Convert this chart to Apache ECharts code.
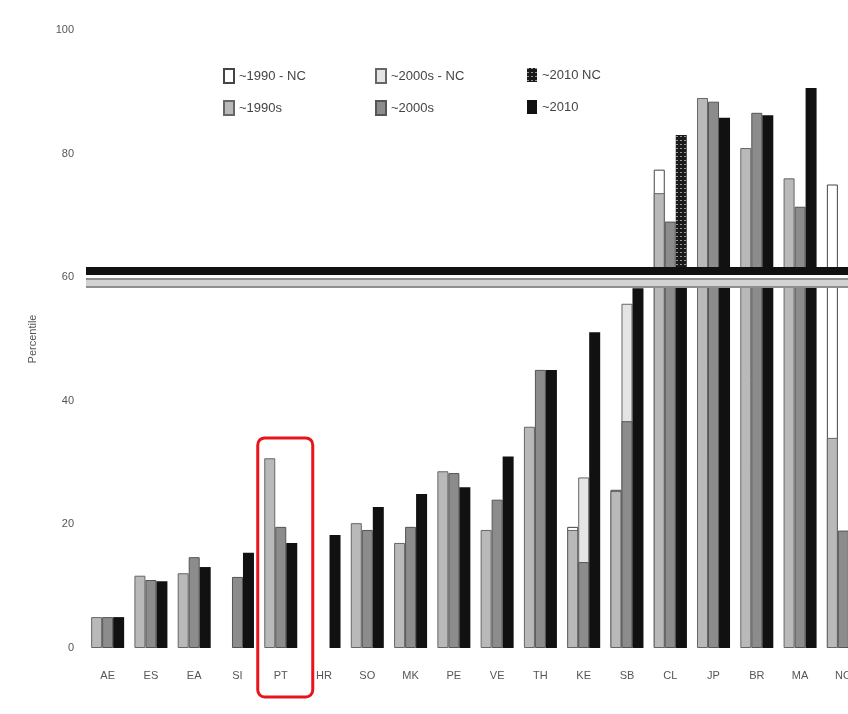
<!DOCTYPE html>
<html>
<head>
<meta charset="utf-8">
<script src="https://cdn.jsdelivr.net/npm/echarts@6/dist/echarts.min.js"></script>
<style>
  html, body { margin: 0; padding: 0; background: #fff; }
  #chart { width: 848px; height: 714px; }
</style>
</head>
<body>
<div id="chart"></div>
<script>
// categories (x axis)
var categories = ['AE', 'ES', 'EA', 'SI', 'PT', 'HR', 'SO', 'MK', 'PE', 'VE', 'TH', 'KE', 'SB', 'CL', 'JP', 'BR', 'MA', 'NO'];
// values
var v1990 = [5, 11.7, 12.1, null, 30.7, null, 20.2, 17, 28.6, 19.1, 35.8, 19.1, 25.4, 73.6, 89, 80.9, 76, 34];
var v2000 = [5, 11, 14.7, 11.5, 19.6, null, 19.1, 19.6, 28.3, 24, 45, 13.9, 36.7, 69, 88.4, 86.6, 71.4, 19];
var v2010 = [5, 10.8, 13.1, 15.4, 17, 18.3, 22.8, 24.9, 26, 31, 45, 51.1, 58.2, 60, 85.8, 86.2, 90.6, 91];
var nc1990 = [null, null, null, null, null, null, null, null, null, null, null, 19.6, 25.6, 77.4, null, null, null, 75];
var nc2000 = [null, null, null, null, null, null, null, null, null, null, null, 27.6, 55.7, null, null, null, null, null];
var nc2010 = [null, null, null, null, null, null, null, null, null, null, null, null, null, 83, null, null, null, null];
var yTicks = [0, 20, 40, 60, 80, 100];
// threshold bands
var lineTop = 61;
var lineBottom = 59.15;

var names = ['~1990 - NC', '~2000s - NC', '~2010 NC', '~1990s', '~2000s', '~2010'];

function bar(name, data, axis, style) {
    return {
        name: name,
        type: 'bar',
        xAxisIndex: axis,
        barWidth: 11,
        barGap: '0%',
        data: data,
        itemStyle: style
    };
}

var series = [
    bar(names[0], nc1990, 1, {color: '#ffffff', borderColor: '#444', borderWidth: 1}),
    bar(names[1], nc2000, 1, {color: '#e4e4e4', borderColor: '#666', borderWidth: 1}),
    bar(names[2], nc2010, 1, {
        color: '#1a1a1a',
        decal: {symbol: 'rect', symbolSize: 1, dashArrayX: [[2, 2]], dashArrayY: [1, 3], color: 'rgba(255,255,255,0.55)', rotation: 0}
    }),
    bar(names[3], v1990, 0, {color: '#b9b9b9', borderColor: '#666', borderWidth: 1}),
    bar(names[4], v2000, 0, {color: '#8c8c8c', borderColor: '#555', borderWidth: 1}),
    bar(names[5], v2010, 0, {color: '#111111'})
];
series[5].markLine = {
    silent: true,
    symbol: 'none',
    label: {show: false},
    animation: false,
    data: [
        {yAxis: (lineTop + lineBottom) / 2, lineStyle: {color: '#ffffff', width: 5, type: 'solid'}},
        {yAxis: lineTop, lineStyle: {color: '#111111', width: 8, type: 'solid'}},
        {yAxis: lineBottom, lineStyle: {color: '#8f8f8f', width: 10, type: 'solid'}},
        {yAxis: lineBottom, lineStyle: {color: '#d2d2d2', width: 6, type: 'solid'}}
    ]
};

// one legend box per item, laid out in two rows of three
var legendPos = [[218, 63], [370, 63], [522, 63], [218, 95], [370, 95], [522, 95]];
var legends = names.map(function (n, i) {
    return {
        data: [{name: n, icon: 'rect'}],
        left: legendPos[i][0],
        top: legendPos[i][1],
        itemWidth: 10,
        itemHeight: 14,
        itemGap: 4,
        selectedMode: false,
        textStyle: {color: '#444', fontSize: 13, fontFamily: 'Liberation Sans'}
    };
});

var option = {
    animation: false,
    backgroundColor: '#ffffff',
    // the plot runs past the right edge of the picture
    grid: {left: 86, right: -17, top: 30, bottom: 66, outerBoundsMode: 'none', containLabel: false},
    legend: legends,
    xAxis: [{
        type: 'category',
        data: categories,
        axisLine: {show: false},
        axisTick: {show: false},
        axisLabel: {color: '#555', fontSize: 11, margin: 22, fontFamily: 'Liberation Sans'}
    }, {
        type: 'category',
        data: categories,
        show: false
    }],
    yAxis: {
        type: 'value',
        min: yTicks[0],
        max: yTicks[yTicks.length - 1],
        interval: 20,
        name: 'Percentile',
        nameLocation: 'middle',
        nameGap: 48,
        nameTextStyle: {color: '#555', fontSize: 11, fontFamily: 'Liberation Sans'},
        axisLine: {show: false},
        axisTick: {show: false},
        splitLine: {show: false},
        axisLabel: {color: '#555', fontSize: 11, margin: 12, fontFamily: 'Liberation Sans'}
    },
    series: series
};

var myChart = echarts.init(document.getElementById('chart'));
myChart.setOption(option);

// red box around PT, placed from the axis scales
var pTop = myChart.convertToPixel({xAxisIndex: 0, yAxisIndex: 0}, ['PT', 34]);
var pBase = myChart.convertToPixel({xAxisIndex: 0, yAxisIndex: 0}, ['PT', 0]);
myChart.setOption({
    graphic: [{
        type: 'rect',
        shape: {x: pTop[0] - 23, y: pTop[1], width: 55, height: pBase[1] - pTop[1] + 49, r: 7},
        style: {fill: 'none', stroke: '#e8141c', lineWidth: 3},
        z: 100
    }]
});
window.addEventListener('resize', function () {
    myChart.resize();
}, false);
</script>
</body>
</html>
